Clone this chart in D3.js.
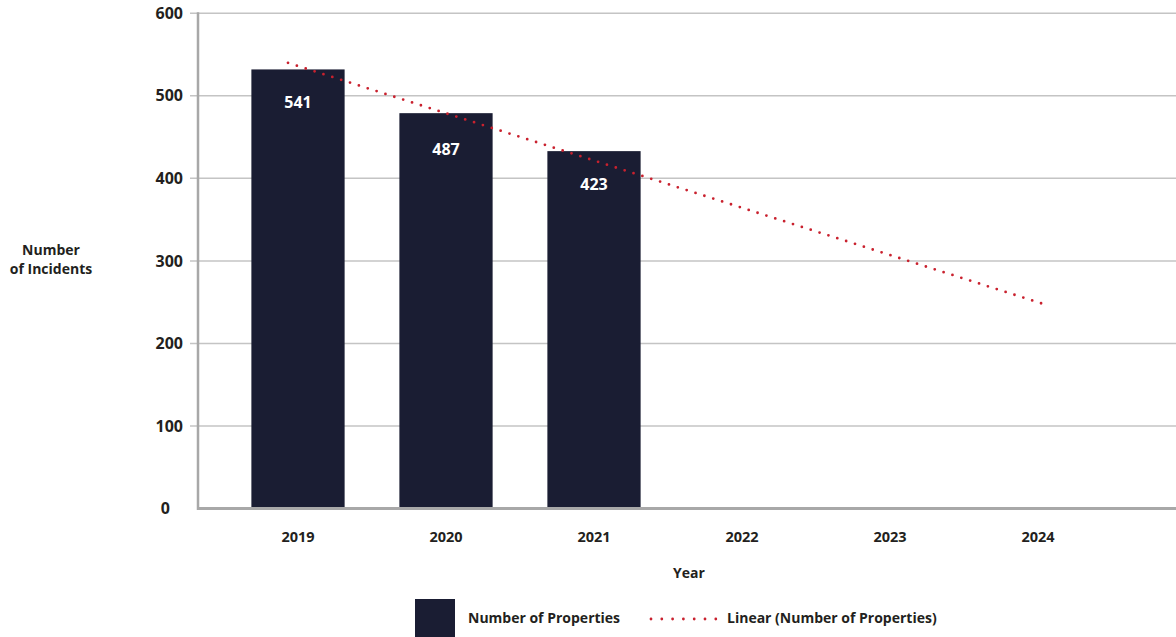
<!DOCTYPE html>
<html>
<head>
<meta charset="utf-8">
<script src="https://cdn.jsdelivr.net/npm/d3@7"></script>
<style>
	body { margin: 0; background: #fff; }
	svg { display: block; font-family: "Open Sans", sans-serif; font-weight: 700; }
</style>
</head>
<body>
<div id="chart"></div>
<script>
// chart data
var years = ["2019", "2020", "2021", "2022", "2023", "2024"];
var barYears = ["2019", "2020", "2021"];
var barValues = [532, 479, 433];          // bar heights as drawn
var barLabels = ["541", "487", "423"];    // data labels shown inside bars
var labelOffsets = [39, 42, 39];          // label baseline below bar top
var trendYears = [2019, 2024];
var trendValues = [540, 246];             // linear trend end points
var yTicks = [0, 100, 200, 300, 400, 500, 600];

var width = 1176,
	height = 637,
	barColor = "#1a1d33",
	trendColor = "#c9212e",
	textColor = "#231f20";

var svg = d3.select("#chart")
	.append("svg")
	.attr("width", width)
	.attr("height", height);

var y = d3.scaleLinear()
	.domain([0, 600])
	.range([508.5, 13.3]);

var x = d3.scaleBand()
	.domain(years)
	.range([224, 1112])
	.paddingInner(0.37)
	.paddingOuter(0.185);

// trend line spans slightly wider than category centres
var xt = d3.scaleLinear()
	.domain([2019, 2024])
	.range([x("2019") + x.bandwidth() / 2 - 10, x("2024") + x.bandwidth() / 2 + 10]);

// gridlines
svg.append("g")
	.selectAll("line")
	.data(yTicks.filter(function (d) { return d > 0; }))
	.join("line")
	.attr("x1", 190)
	.attr("x2", width)
	.attr("y1", function (d) { return y(d); })
	.attr("y2", function (d) { return y(d); })
	.attr("stroke", "#c4c4c4")
	.attr("stroke-width", 1.5);

// y tick labels
svg.append("g")
	.selectAll("text")
	.data(yTicks)
	.join("text")
	.attr("x", 183)
	.attr("dx", function (d) { return d === 0 ? -13 : 0; })
	.attr("y", function (d) { return y(d); })
	.attr("dy", "0.35em")
	.attr("text-anchor", "end")
	.attr("fill", textColor)
	.style("font-size", "16px")
	.text(function (d) { return d; });

// bars
svg.append("g")
	.selectAll("rect")
	.data(barValues)
	.join("rect")
	.attr("x", function (d, i) { return x(barYears[i]); })
	.attr("width", x.bandwidth())
	.attr("y", function (d) { return y(d); })
	.attr("height", function (d) { return y(0) - y(d); })
	.attr("fill", barColor);

// bar labels
svg.append("g")
	.selectAll("text")
	.data(barValues)
	.join("text")
	.attr("x", function (d, i) { return x(barYears[i]) + x.bandwidth() / 2; })
	.attr("y", function (d, i) { return y(d) + labelOffsets[i]; })
	.attr("text-anchor", "middle")
	.attr("fill", "#fff")
	.style("font-size", "16px")
	.text(function (d, i) { return barLabels[i]; });

// trend line
svg.append("path")
	.datum(trendYears)
	.attr("d", d3.line()
		.x(function (d) { return xt(d); })
		.y(function (d, i) { return y(trendValues[i]); }))
	.attr("fill", "none")
	.attr("stroke", trendColor)
	.attr("stroke-width", 2.8)
	.attr("stroke-linecap", "round")
	.attr("stroke-dasharray", "0 9.3");

// axis lines
svg.append("line")
	.attr("x1", 198).attr("x2", 198)
	.attr("y1", y(600) - 1).attr("y2", y(0) + 1.5)
	.attr("stroke", "#a8a8a8")
	.attr("stroke-width", 2.5);

svg.append("line")
	.attr("x1", 197).attr("x2", width)
	.attr("y1", y(0)).attr("y2", y(0))
	.attr("stroke", "#a8a8a8")
	.attr("stroke-width", 3);

// x tick labels
svg.append("g")
	.selectAll("text")
	.data(years)
	.join("text")
	.attr("x", function (d) { return x(d) + x.bandwidth() / 2; })
	.attr("y", 542)
	.attr("text-anchor", "middle")
	.attr("fill", textColor)
	.style("font-size", "14.5px")
	.text(function (d) { return d; });

// axis titles
svg.append("text")
	.attr("x", 689)
	.attr("y", 578)
	.attr("text-anchor", "middle")
	.attr("fill", textColor)
	.style("font-size", "14px")
	.text("Year");

var ytitle = svg.append("text")
	.attr("text-anchor", "middle")
	.attr("fill", textColor)
	.style("font-size", "14px");
ytitle.append("tspan").attr("x", 51).attr("y", 255).text("Number");
ytitle.append("tspan").attr("x", 51).attr("y", 274).text("of Incidents");

// legend
var legend = svg.append("g");
legend.append("rect")
	.attr("x", 415).attr("y", 599)
	.attr("width", 40).attr("height", 38)
	.attr("fill", barColor);
legend.append("text")
	.attr("x", 468).attr("y", 623)
	.attr("fill", textColor)
	.style("font-size", "14px")
	.text("Number of Properties");
legend.append("line")
	.attr("x1", 651).attr("x2", 716)
	.attr("y1", 619).attr("y2", 619)
	.attr("stroke", trendColor)
	.attr("stroke-width", 2.8)
	.attr("stroke-linecap", "round")
	.attr("stroke-dasharray", "0 10.8");
legend.append("text")
	.attr("x", 727).attr("y", 623)
	.attr("fill", textColor)
	.style("font-size", "14px")
	.text("Linear (Number of Properties)");
</script>
</body>
</html>
